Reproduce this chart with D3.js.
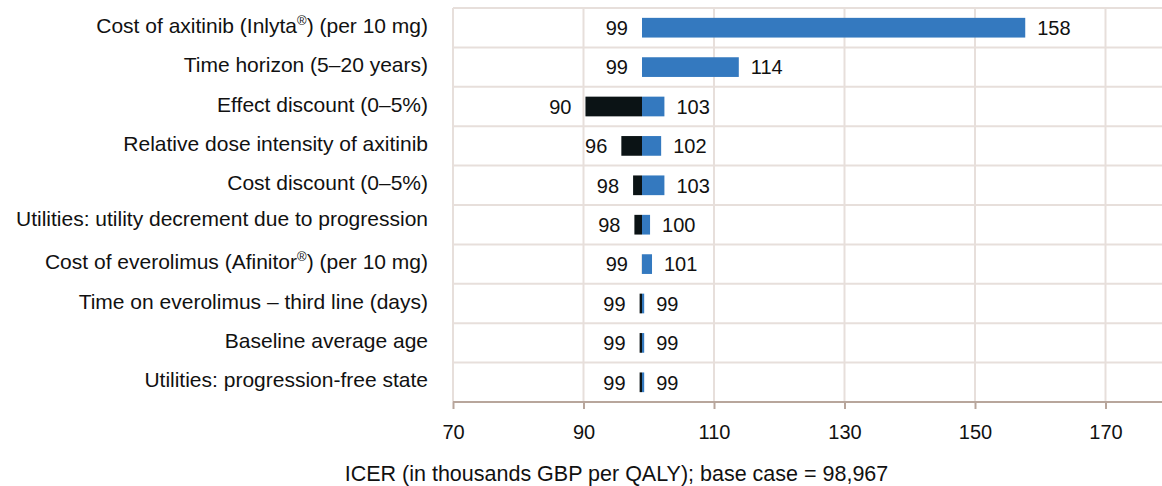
<!DOCTYPE html>
<html>
<head>
<meta charset="utf-8">
<script src="https://cdn.jsdelivr.net/npm/d3@7"></script>
<style>
  html, body { margin: 0; padding: 0; background: #fff; }
  svg { display: block; font-family: "Liberation Sans", Arial, sans-serif; }
</style>
</head>
<body>
<svg id="chart" width="1162" height="486"></svg>
<script>
// ---- data ----
const baseCase = 98.967;
const categories = [
  "Cost of axitinib (Inlyta®) (per 10 mg)",
  "Time horizon (5–20 years)",
  "Effect discount (0–5%)",
  "Relative dose intensity of axitinib",
  "Cost discount (0–5%)",
  "Utilities: utility decrement due to progression",
  "Cost of everolimus (Afinitor®) (per 10 mg)",
  "Time on everolimus – third line (days)",
  "Baseline average age",
  "Utilities: progression-free state"
];
const lowValues  = [98.967, 98.967, 90.3, 95.8, 97.6, 97.8, 98.95, 98.6, 98.6, 98.6];
const highValues = [157.7, 113.8, 102.4, 101.9, 102.4, 100.2, 100.5, 99.3, 99.3, 99.3];
const lowLabels  = ["99", "99", "90", "96", "98", "98", "99", "99", "99", "99"];
const highLabels = ["158", "114", "103", "102", "103", "100", "101", "99", "99", "99"];
const xTicks = [70, 90, 110, 130, 150, 170];
const xDomain = [70, 180];
const axisTitle = "ICER (in thousands GBP per QALY); base case = 98,967";

(function () {
// ---- layout ----
const svg = d3.select("#chart");
const mLeft = 453, mTop = 8, mBottom = 402;
const x = d3.scaleLinear().domain(xDomain).range([mLeft, mLeft + 110 * 6.525]);
const y = d3.scaleBand().domain(categories).range([mTop, mBottom]).paddingInner(0.5).paddingOuter(0.25);
const step = y.step();

const gridColor = "#e7dfdb";
const axisColor = "#b8a69c";
const blue = "#3479bf";
const black = "#0b1315";

// horizontal grid lines (row boundaries)
const rowEdges = d3.range(categories.length).map(i => mTop + i * step);
svg.append("g").selectAll("line").data(rowEdges).join("line")
  .attr("x1", mLeft).attr("x2", 1162)
  .attr("y1", d => d).attr("y2", d => d)
  .attr("stroke", gridColor).attr("stroke-width", 2);

// vertical grid lines
svg.append("g").selectAll("line").data(xTicks).join("line")
  .attr("x1", d => x(d)).attr("x2", d => x(d))
  .attr("y1", mTop).attr("y2", mBottom)
  .attr("stroke", gridColor).attr("stroke-width", 2);

// x axis
const xAxis = d3.axisBottom(x).tickValues(xTicks).tickSize(7).tickSizeOuter(0).tickPadding(16);
const gx = svg.append("g").attr("transform", `translate(0,${mBottom})`).call(xAxis);
gx.select(".domain").attr("stroke", axisColor).attr("stroke-width", 2).attr("d", `M${mLeft},0H1162`);
gx.selectAll(".tick line").attr("stroke", axisColor).attr("stroke-width", 2);
gx.selectAll(".tick text").attr("fill", "#111").style("font-size", "20px").attr("font-family", "Liberation Sans, Arial, sans-serif");

// bars
const rows = categories.map((c, i) => ({c, lo: lowValues[i], hi: highValues[i], ll: lowLabels[i], hl: highLabels[i]}));
const bars = svg.append("g");
bars.selectAll("rect.low").data(rows.filter(d => d.lo < baseCase)).join("rect")
  .attr("class", "low")
  .attr("x", d => x(d.lo)).attr("width", d => x(baseCase) - x(d.lo))
  .attr("y", d => y(d.c)).attr("height", y.bandwidth())
  .attr("fill", black);
bars.selectAll("rect.high").data(rows.filter(d => d.hi > baseCase)).join("rect")
  .attr("class", "high")
  .attr("x", x(baseCase)).attr("width", d => x(d.hi) - x(baseCase))
  .attr("y", d => y(d.c)).attr("height", y.bandwidth())
  .attr("fill", blue);

// value labels
const labels = svg.append("g").style("font-size", "20px").attr("fill", "#111");
labels.selectAll("text.lo").data(rows).join("text")
  .attr("class", "lo")
  .attr("x", d => Math.min(x(d.lo), x(baseCase)) - 14)
  .attr("y", d => y(d.c) + y.bandwidth() / 2)
  .attr("dy", "0.36em").attr("text-anchor", "end")
  .text(d => d.ll);
labels.selectAll("text.hi").data(rows).join("text")
  .attr("class", "hi")
  .attr("x", d => Math.max(x(d.hi), x(baseCase)) + 12)
  .attr("y", d => y(d.c) + y.bandwidth() / 2)
  .attr("dy", "0.36em").attr("text-anchor", "start")
  .text(d => d.hl);

// category labels
const cat = svg.append("g").style("font-size", "21px").attr("fill", "#111");
cat.selectAll("text").data(categories).join("text")
  .attr("x", 428)
  .attr("y", (d, i) => y(d) + y.bandwidth() / 2 + 5 - (i === 5 ? 4 : 0))
  .attr("text-anchor", "end")
  .each(function(d) {
    const t = d3.select(this);
    const parts = d.split("®");
    parts.forEach((p, i) => {
      const ts = t.append("tspan").text(p);
      if (i > 0) ts.attr("dy", 8);
      if (i < parts.length - 1) {
        t.append("tspan").attr("dy", -8).style("font-size", "13px").text("®");
      }
    });
  });

// axis title
svg.append("text")
  .attr("x", 616.5).attr("y", 481)
  .attr("text-anchor", "middle").style("font-size", "21.5px").attr("fill", "#111")
  .text(axisTitle);
})();
</script>
</body>
</html>
